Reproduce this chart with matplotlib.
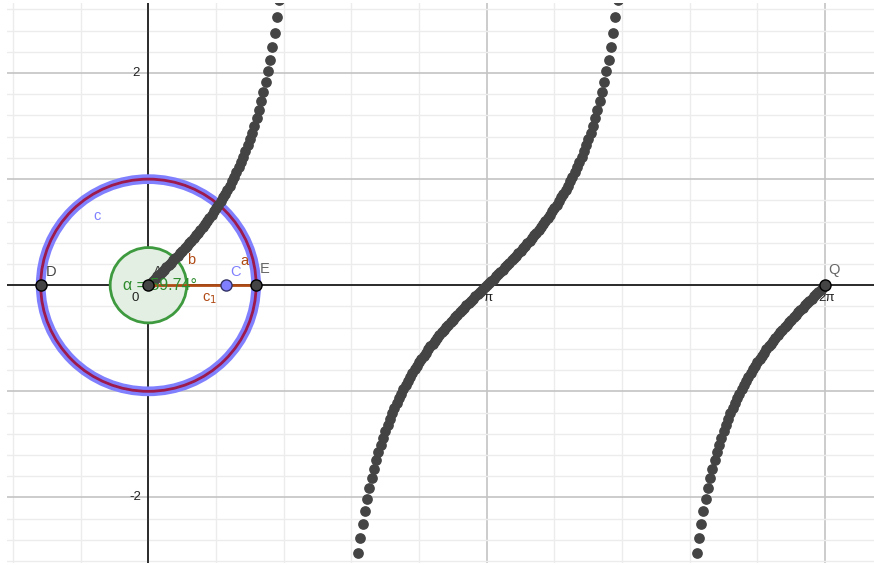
import numpy as np
import matplotlib.pyplot as plt

plt.rcParams['font.family'] = ['Liberation Sans', 'DejaVu Sans']

# sequence of points (x, tan x) over one full turn, 300 steps
n_steps = 300
seq_x = np.linspace(0, 2 * np.pi, n_steps + 1)
seq_y = np.tan(seq_x)

# construction objects
center_A = (0.0, 0.0)
radius_c = 1.0
radius_alpha = 0.355
point_D = (-1.0, 0.0)
point_E = (1.0, 0.0)
point_C = (0.72, 0.0)
point_Q = (2 * np.pi, 0.0)
alpha_text = 'α = 59.74°'

x_min, x_max = -1.313, 6.737
y_min, y_max = -2.618, 2.66

fig = plt.figure(figsize=(8.74, 5.65), dpi=100)
ax = fig.add_axes([7 / 874, 2 / 565, 867 / 874, 560 / 565])
ax.set_xlim(x_min, x_max)
ax.set_ylim(y_min, y_max)
for s in ax.spines.values():
    s.set_visible(False)
ax.set_xticks([])
ax.set_yticks([])

# grid: major every pi / 1 unit, minor every pi/5 / 0.2 unit
for k in range(-2, 11):
    gx = k * np.pi / 5
    if x_min <= gx <= x_max:
        major = k % 5 == 0
        ax.axvline(gx, color='#c4c4c4' if major else '#ececec',
                   lw=1.2 if major else 1.0, zorder=0)
for k in range(-13, 14):
    gy = k * 0.2
    major = k % 5 == 0
    ax.axhline(gy, color='#c4c4c4' if major else '#ececec',
               lw=1.2 if major else 1.0, zorder=0)

ax.axhline(0, color='black', lw=1.1, zorder=1)
ax.axvline(0, color='black', lw=1.1, zorder=1)

# axis labels
lab = dict(fontsize=9.5, color='#222222', ha='center', va='center')
ax.text(-0.115, 2.0, '2', **lab)
ax.text(-0.125, -2.0, '-2', **lab)
ax.text(-0.12, -0.116, '0', **lab)
ax.text(np.pi + 0.01, -0.12, 'π', **lab)
ax.text(2 * np.pi + 0.015, -0.12, '2π', **lab)

# angle circle
ax.add_patch(plt.Circle(center_A, radius_alpha, facecolor='#e3efe3',
                        edgecolor='#3e9a3e', lw=2, zorder=2))

# unit circle c, thick blue with a dark red trace on top
ax.add_patch(plt.Circle(center_A, radius_c, fill=False,
                        edgecolor='#8080ff', lw=7, zorder=3))
ax.add_patch(plt.Circle(center_A, radius_c, fill=False,
                        edgecolor='#9c1a4c', lw=2, zorder=4))

# tan sequence
ax.plot(seq_x, seq_y, 'o', ms=6.7, color='#444444', mec='#444444',
        zorder=5, clip_on=True)

# segment c_1
ax.plot([center_A[0], point_E[0]], [center_A[1], point_E[1]],
        color='#b04a14', lw=2, zorder=6)

# angle value, partly under point A
ax.text(-0.236, 0.0, alpha_text, fontsize=11.5, color='#2e8b2e',
        ha='left', va='center', zorder=7)

# points
for p in (center_A, point_D, point_E, point_Q):
    ax.plot(*p, 'o', ms=8, color='#444444', mec='black', mew=1, zorder=8)
ax.plot(*point_C, 'o', ms=8, color='#7f7fff', mec='#333366', mew=1, zorder=8)

# labels
ax.text(0.09, 0.124, 'A', fontsize=10.5, color='#444444', ha='center', va='center', zorder=9)
ax.text(-0.90, 0.124, 'D', fontsize=10.5, color='#444444', ha='center', va='center', zorder=9)
ax.text(1.08, 0.15, 'E', fontsize=10.5, color='#666666', ha='center', va='center', zorder=9)
ax.text(0.81, 0.12, 'C', fontsize=10.5, color='#7f7fff', ha='center', va='center', zorder=9)
ax.text(0.888, 0.228, 'a', fontsize=10.5, color='#b04a14', ha='center', va='center', zorder=9)
ax.text(0.395, 0.24, 'b', fontsize=10.5, color='#b04a14', ha='center', va='center', zorder=9)
ax.text(0.50, -0.13, 'c$_1$', fontsize=10.5, color='#b04a14', ha='left', va='center', zorder=9)
ax.text(-0.48, 0.65, 'c', fontsize=10.5, color='#7f7fff', ha='center', va='center', zorder=9)
ax.text(6.365, 0.143, 'Q', fontsize=10.5, color='#666666', ha='center', va='center', zorder=9)

fig.savefig('out.png', dpi=100, facecolor='white')
